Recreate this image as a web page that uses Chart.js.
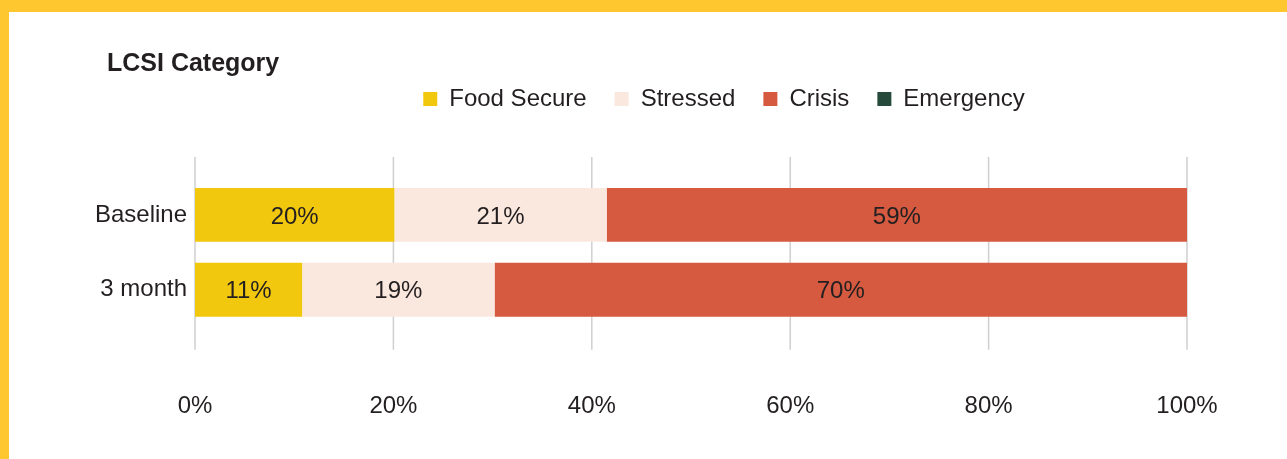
<!DOCTYPE html>
<html>
<head>
<meta charset="utf-8">
<script src="https://cdn.jsdelivr.net/npm/chart.js@4.4.0/dist/chart.umd.min.js"></script>
<style>
  body { margin: 0; background: #ffc72f; overflow: hidden; }
  .panel { position: absolute; left: 9px; top: 12px; width: 1278px; height: 447px; background: #fff; }
</style>
</head>
<body>
<div class="panel"><canvas id="lcsiChart" width="1278" height="447"></canvas></div>
<script>
const categories = ["Baseline", "3 month"];
const seriesNames = ["Food Secure", "Stressed", "Crisis", "Emergency"];
const seriesColors = ["#f2c80f", "#fae8df", "#d55a40", "#264b3d"];
const foodSecure = [20.1, 10.8];
const stressed = [21.4, 19.4];
const crisis = [58.5, 69.8];
const emergency = [0, 0];
const xTicks = [0, 20, 40, 60, 80, 100];

const textColor = "#231f20";
const fontFamily = "'Liberation Sans', Arial, sans-serif";

// grid lines run a bit past the bars, top and bottom
const gridPlugin = {
  id: "gridLines",
  beforeDatasetsDraw(chart) {
    const { ctx, chartArea } = chart;
    const x = chart.scales.x;
    ctx.save();
    ctx.strokeStyle = "#cfcfcf";
    ctx.lineWidth = 1.5;
    xTicks.forEach((t) => {
      const px = x.getPixelForValue(t);
      ctx.beginPath();
      ctx.moveTo(px, chartArea.top - 20.5);
      ctx.lineTo(px, chartArea.bottom + 22.5);
      ctx.stroke();
    });
    ctx.restore();
  },
};

// percent labels inside the bars
const labelPlugin = {
  id: "barLabels",
  afterDatasetsDraw(chart) {
    const { ctx } = chart;
    ctx.save();
    ctx.font = "24px " + fontFamily;
    ctx.fillStyle = textColor;
    ctx.textAlign = "center";
    ctx.textBaseline = "middle";
    chart.data.datasets.forEach((ds, i) => {
      chart.getDatasetMeta(i).data.forEach((bar, j) => {
        const v = ds.data[j];
        if (!v) return;
        ctx.fillText(Math.round(v) + "%", (bar.base + bar.x) / 2, bar.y + 2);
      });
    });
    ctx.restore();
  },
};

// move title and legend to where they sit in the original
const blockShift = {
  id: "blockShift",
  afterLayout(chart) {
    const t = chart.titleBlock;
    t.left += 20;
    t.right += 20;
    const l = chart.legend;
    l.left += 87;
    l.right += 87;
    l.top -= 56.5;
    l.bottom -= 56.5;
  },
};

const values = [foodSecure, stressed, crisis, emergency];

const chart = new Chart(document.getElementById("lcsiChart"), {
  type: "bar",
  data: {
    labels: categories,
    datasets: seriesNames.map((name, i) => ({
      label: name,
      data: values[i],
      backgroundColor: seriesColors[i],
      borderWidth: 0,
      barPercentage: 0.72,
      categoryPercentage: 1,
    })),
  },
  options: {
    indexAxis: "y",
    responsive: false,
    animation: false,
    layout: { padding: { left: 78, right: 100, top: 0, bottom: 38 } },
    scales: {
      x: {
        stacked: true,
        min: 0,
        max: 100,
        afterBuildTicks: (scale) => {
          scale.ticks = xTicks.map((v) => ({ value: v }));
        },
        afterFit: (scale) => {
          scale.height = 93.8;
        },
        grid: { display: false, drawTicks: false },
        border: { display: false },
        ticks: {
          padding: 65,
          color: textColor,
          font: { family: fontFamily, size: 24 },
          callback: (v) => v + "%",
        },
      },
      y: {
        stacked: true,
        afterFit: (scale) => {
          scale.width = 108;
        },
        grid: { display: false, drawTicks: false },
        border: { display: false },
        ticks: {
          padding: 8,
          color: textColor,
          font: { family: fontFamily, size: 24 },
        },
      },
    },
    plugins: {
      tooltip: { enabled: false },
      title: {
        display: true,
        text: "LCSI Category",
        align: "start",
        color: textColor,
        font: { family: fontFamily, size: 25, weight: "bold" },
        padding: { top: 37.5, bottom: 36 },
      },
      legend: {
        display: true,
        position: "top",
        labels: {
          boxWidth: 14,
          boxHeight: 14,
          padding: 28,
          color: textColor,
          font: { family: fontFamily, size: 24 },
        },
      },
    },
  },
  plugins: [gridPlugin, labelPlugin, blockShift],
});
</script>
</body>
</html>
